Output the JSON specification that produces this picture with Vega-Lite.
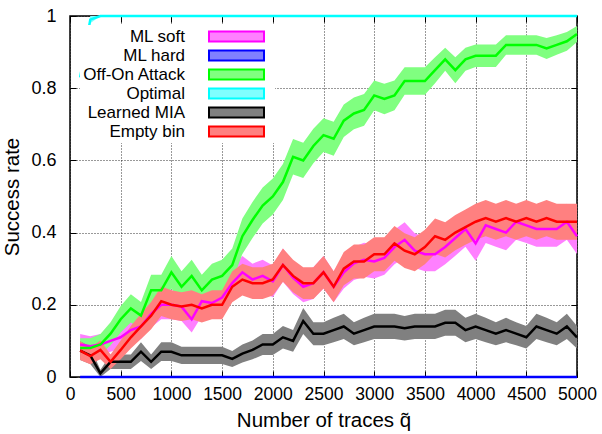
{
"$schema": "https://vega.github.io/schema/vega-lite/v6.json",
"width": 507, "height": 361,
"autosize": {"type": "none"},
"padding": {"left": 70, "top": 16, "right": 25, "bottom": 57},
"config": {
  "view": {"stroke": "black", "strokeWidth": 1.5},
  "font": "Liberation Sans",
  "legend": {"orient": "none", "legendX": 10, "legendY": 9, "zindex": 0,
    "symbolType": "M-3.235,-0.588L3.235,-0.588L3.235,0.588L-3.235,0.588Z", "symbolSize": 289, "symbolStrokeWidth": 2,
    "symbolOffset": 145, "labelOffset": -61, "labelAlign": "right", "labelFontSize": 17, "labelFont": "Liberation Sans",
    "labelColor": "black", "fillColor": "white", "padding": 2, "rowPadding": -0.3, "symbolOpacity": 1, "labelLimit": 220,
    "titleOrient": "right", "titleFontSize": 10, "titlePadding": 5}
},
"data": {"values": [
{"x":100,"s":"ML soft","v":0.09,"lo":0.061,"hi":0.119},
{"x":200,"s":"ML soft","v":0.085,"lo":0.057,"hi":0.113},
{"x":300,"s":"ML soft","v":0.09,"lo":0.061,"hi":0.119},
{"x":400,"s":"ML soft","v":0.10,"lo":0.07,"hi":0.13},
{"x":500,"s":"ML soft","v":0.11,"lo":0.079,"hi":0.141},
{"x":600,"s":"ML soft","v":0.13,"lo":0.096,"hi":0.164},
{"x":700,"s":"ML soft","v":0.14,"lo":0.105,"hi":0.175},
{"x":800,"s":"ML soft","v":0.175,"lo":0.137,"hi":0.213},
{"x":900,"s":"ML soft","v":0.20,"lo":0.16,"hi":0.24},
{"x":1000,"s":"ML soft","v":0.20,"lo":0.16,"hi":0.24},
{"x":1100,"s":"ML soft","v":0.195,"lo":0.155,"hi":0.235},
{"x":1200,"s":"ML soft","v":0.16,"lo":0.123,"hi":0.197},
{"x":1300,"s":"ML soft","v":0.21,"lo":0.169,"hi":0.251},
{"x":1400,"s":"ML soft","v":0.205,"lo":0.165,"hi":0.245},
{"x":1500,"s":"ML soft","v":0.22,"lo":0.179,"hi":0.261},
{"x":1600,"s":"ML soft","v":0.26,"lo":0.216,"hi":0.304},
{"x":1700,"s":"ML soft","v":0.29,"lo":0.245,"hi":0.335},
{"x":1800,"s":"ML soft","v":0.27,"lo":0.226,"hi":0.314},
{"x":1900,"s":"ML soft","v":0.28,"lo":0.235,"hi":0.325},
{"x":2000,"s":"ML soft","v":0.265,"lo":0.221,"hi":0.309},
{"x":2100,"s":"ML soft","v":0.31,"lo":0.264,"hi":0.356},
{"x":2200,"s":"ML soft","v":0.275,"lo":0.23,"hi":0.32},
{"x":2300,"s":"ML soft","v":0.25,"lo":0.207,"hi":0.293},
{"x":2400,"s":"ML soft","v":0.26,"lo":0.216,"hi":0.304},
{"x":2500,"s":"ML soft","v":0.29,"lo":0.245,"hi":0.335},
{"x":2600,"s":"ML soft","v":0.25,"lo":0.207,"hi":0.293},
{"x":2700,"s":"ML soft","v":0.29,"lo":0.245,"hi":0.335},
{"x":2800,"s":"ML soft","v":0.315,"lo":0.269,"hi":0.361},
{"x":2900,"s":"ML soft","v":0.325,"lo":0.278,"hi":0.372},
{"x":3000,"s":"ML soft","v":0.32,"lo":0.273,"hi":0.367},
{"x":3100,"s":"ML soft","v":0.33,"lo":0.283,"hi":0.377},
{"x":3200,"s":"ML soft","v":0.36,"lo":0.312,"hi":0.408},
{"x":3300,"s":"ML soft","v":0.38,"lo":0.331,"hi":0.429},
{"x":3400,"s":"ML soft","v":0.35,"lo":0.302,"hi":0.398},
{"x":3500,"s":"ML soft","v":0.34,"lo":0.293,"hi":0.387},
{"x":3600,"s":"ML soft","v":0.34,"lo":0.293,"hi":0.387},
{"x":3700,"s":"ML soft","v":0.36,"lo":0.312,"hi":0.408},
{"x":3800,"s":"ML soft","v":0.385,"lo":0.336,"hi":0.434},
{"x":3900,"s":"ML soft","v":0.41,"lo":0.361,"hi":0.459},
{"x":4000,"s":"ML soft","v":0.37,"lo":0.322,"hi":0.418},
{"x":4100,"s":"ML soft","v":0.42,"lo":0.371,"hi":0.469},
{"x":4200,"s":"ML soft","v":0.41,"lo":0.361,"hi":0.459},
{"x":4300,"s":"ML soft","v":0.40,"lo":0.351,"hi":0.449},
{"x":4400,"s":"ML soft","v":0.43,"lo":0.38,"hi":0.48},
{"x":4500,"s":"ML soft","v":0.42,"lo":0.371,"hi":0.469},
{"x":4600,"s":"ML soft","v":0.41,"lo":0.361,"hi":0.459},
{"x":4700,"s":"ML soft","v":0.41,"lo":0.361,"hi":0.459},
{"x":4800,"s":"ML soft","v":0.41,"lo":0.361,"hi":0.459},
{"x":4900,"s":"ML soft","v":0.43,"lo":0.38,"hi":0.48},
{"x":5000,"s":"ML soft","v":0.39,"lo":0.341,"hi":0.439},
{"x":100,"s":"ML hard","v":0,"lo":0,"hi":0},
{"x":200,"s":"ML hard","v":0,"lo":0,"hi":0},
{"x":300,"s":"ML hard","v":0,"lo":0,"hi":0},
{"x":400,"s":"ML hard","v":0,"lo":0,"hi":0},
{"x":500,"s":"ML hard","v":0,"lo":0,"hi":0},
{"x":600,"s":"ML hard","v":0,"lo":0,"hi":0},
{"x":700,"s":"ML hard","v":0,"lo":0,"hi":0},
{"x":800,"s":"ML hard","v":0,"lo":0,"hi":0},
{"x":900,"s":"ML hard","v":0,"lo":0,"hi":0},
{"x":1000,"s":"ML hard","v":0,"lo":0,"hi":0},
{"x":1100,"s":"ML hard","v":0,"lo":0,"hi":0},
{"x":1200,"s":"ML hard","v":0,"lo":0,"hi":0},
{"x":1300,"s":"ML hard","v":0,"lo":0,"hi":0},
{"x":1400,"s":"ML hard","v":0,"lo":0,"hi":0},
{"x":1500,"s":"ML hard","v":0,"lo":0,"hi":0},
{"x":1600,"s":"ML hard","v":0,"lo":0,"hi":0},
{"x":1700,"s":"ML hard","v":0,"lo":0,"hi":0},
{"x":1800,"s":"ML hard","v":0,"lo":0,"hi":0},
{"x":1900,"s":"ML hard","v":0,"lo":0,"hi":0},
{"x":2000,"s":"ML hard","v":0,"lo":0,"hi":0},
{"x":2100,"s":"ML hard","v":0,"lo":0,"hi":0},
{"x":2200,"s":"ML hard","v":0,"lo":0,"hi":0},
{"x":2300,"s":"ML hard","v":0,"lo":0,"hi":0},
{"x":2400,"s":"ML hard","v":0,"lo":0,"hi":0},
{"x":2500,"s":"ML hard","v":0,"lo":0,"hi":0},
{"x":2600,"s":"ML hard","v":0,"lo":0,"hi":0},
{"x":2700,"s":"ML hard","v":0,"lo":0,"hi":0},
{"x":2800,"s":"ML hard","v":0,"lo":0,"hi":0},
{"x":2900,"s":"ML hard","v":0,"lo":0,"hi":0},
{"x":3000,"s":"ML hard","v":0,"lo":0,"hi":0},
{"x":3100,"s":"ML hard","v":0,"lo":0,"hi":0},
{"x":3200,"s":"ML hard","v":0,"lo":0,"hi":0},
{"x":3300,"s":"ML hard","v":0,"lo":0,"hi":0},
{"x":3400,"s":"ML hard","v":0,"lo":0,"hi":0},
{"x":3500,"s":"ML hard","v":0,"lo":0,"hi":0},
{"x":3600,"s":"ML hard","v":0,"lo":0,"hi":0},
{"x":3700,"s":"ML hard","v":0,"lo":0,"hi":0},
{"x":3800,"s":"ML hard","v":0,"lo":0,"hi":0},
{"x":3900,"s":"ML hard","v":0,"lo":0,"hi":0},
{"x":4000,"s":"ML hard","v":0,"lo":0,"hi":0},
{"x":4100,"s":"ML hard","v":0,"lo":0,"hi":0},
{"x":4200,"s":"ML hard","v":0,"lo":0,"hi":0},
{"x":4300,"s":"ML hard","v":0,"lo":0,"hi":0},
{"x":4400,"s":"ML hard","v":0,"lo":0,"hi":0},
{"x":4500,"s":"ML hard","v":0,"lo":0,"hi":0},
{"x":4600,"s":"ML hard","v":0,"lo":0,"hi":0},
{"x":4700,"s":"ML hard","v":0,"lo":0,"hi":0},
{"x":4800,"s":"ML hard","v":0,"lo":0,"hi":0},
{"x":4900,"s":"ML hard","v":0,"lo":0,"hi":0},
{"x":5000,"s":"ML hard","v":0,"lo":0,"hi":0},
{"x":100,"s":"Off-On Attack","v":0.08,"lo":0.053,"hi":0.107},
{"x":200,"s":"Off-On Attack","v":0.08,"lo":0.053,"hi":0.107},
{"x":300,"s":"Off-On Attack","v":0.09,"lo":0.061,"hi":0.119},
{"x":400,"s":"Off-On Attack","v":0.12,"lo":0.088,"hi":0.152},
{"x":500,"s":"Off-On Attack","v":0.16,"lo":0.123,"hi":0.197},
{"x":600,"s":"Off-On Attack","v":0.19,"lo":0.151,"hi":0.229},
{"x":700,"s":"Off-On Attack","v":0.17,"lo":0.132,"hi":0.208},
{"x":800,"s":"Off-On Attack","v":0.24,"lo":0.197,"hi":0.283},
{"x":900,"s":"Off-On Attack","v":0.24,"lo":0.197,"hi":0.283},
{"x":1000,"s":"Off-On Attack","v":0.29,"lo":0.245,"hi":0.335},
{"x":1100,"s":"Off-On Attack","v":0.25,"lo":0.207,"hi":0.293},
{"x":1200,"s":"Off-On Attack","v":0.28,"lo":0.235,"hi":0.325},
{"x":1300,"s":"Off-On Attack","v":0.24,"lo":0.197,"hi":0.283},
{"x":1400,"s":"Off-On Attack","v":0.27,"lo":0.226,"hi":0.314},
{"x":1500,"s":"Off-On Attack","v":0.28,"lo":0.235,"hi":0.325},
{"x":1600,"s":"Off-On Attack","v":0.31,"lo":0.264,"hi":0.356},
{"x":1700,"s":"Off-On Attack","v":0.39,"lo":0.341,"hi":0.439},
{"x":1800,"s":"Off-On Attack","v":0.435,"lo":0.385,"hi":0.485},
{"x":1900,"s":"Off-On Attack","v":0.475,"lo":0.425,"hi":0.525},
{"x":2000,"s":"Off-On Attack","v":0.50,"lo":0.45,"hi":0.55},
{"x":2100,"s":"Off-On Attack","v":0.54,"lo":0.49,"hi":0.59},
{"x":2200,"s":"Off-On Attack","v":0.61,"lo":0.561,"hi":0.659},
{"x":2300,"s":"Off-On Attack","v":0.60,"lo":0.551,"hi":0.649},
{"x":2400,"s":"Off-On Attack","v":0.64,"lo":0.592,"hi":0.688},
{"x":2500,"s":"Off-On Attack","v":0.67,"lo":0.623,"hi":0.717},
{"x":2600,"s":"Off-On Attack","v":0.66,"lo":0.613,"hi":0.707},
{"x":2700,"s":"Off-On Attack","v":0.71,"lo":0.665,"hi":0.755},
{"x":2800,"s":"Off-On Attack","v":0.73,"lo":0.686,"hi":0.774},
{"x":2900,"s":"Off-On Attack","v":0.74,"lo":0.696,"hi":0.784},
{"x":3000,"s":"Off-On Attack","v":0.78,"lo":0.739,"hi":0.821},
{"x":3100,"s":"Off-On Attack","v":0.77,"lo":0.728,"hi":0.812},
{"x":3200,"s":"Off-On Attack","v":0.78,"lo":0.739,"hi":0.821},
{"x":3300,"s":"Off-On Attack","v":0.82,"lo":0.782,"hi":0.858},
{"x":3400,"s":"Off-On Attack","v":0.82,"lo":0.782,"hi":0.858},
{"x":3500,"s":"Off-On Attack","v":0.82,"lo":0.782,"hi":0.858},
{"x":3600,"s":"Off-On Attack","v":0.85,"lo":0.814,"hi":0.886},
{"x":3700,"s":"Off-On Attack","v":0.88,"lo":0.848,"hi":0.912},
{"x":3800,"s":"Off-On Attack","v":0.85,"lo":0.814,"hi":0.886},
{"x":3900,"s":"Off-On Attack","v":0.88,"lo":0.848,"hi":0.912},
{"x":4000,"s":"Off-On Attack","v":0.89,"lo":0.859,"hi":0.921},
{"x":4100,"s":"Off-On Attack","v":0.89,"lo":0.859,"hi":0.921},
{"x":4200,"s":"Off-On Attack","v":0.89,"lo":0.859,"hi":0.921},
{"x":4300,"s":"Off-On Attack","v":0.92,"lo":0.893,"hi":0.947},
{"x":4400,"s":"Off-On Attack","v":0.92,"lo":0.893,"hi":0.947},
{"x":4500,"s":"Off-On Attack","v":0.92,"lo":0.893,"hi":0.947},
{"x":4600,"s":"Off-On Attack","v":0.92,"lo":0.893,"hi":0.947},
{"x":4700,"s":"Off-On Attack","v":0.91,"lo":0.881,"hi":0.939},
{"x":4800,"s":"Off-On Attack","v":0.92,"lo":0.893,"hi":0.947},
{"x":4900,"s":"Off-On Attack","v":0.93,"lo":0.904,"hi":0.956},
{"x":5000,"s":"Off-On Attack","v":0.95,"lo":0.928,"hi":0.972},
{"x":100,"s":"Optimal","v":0.83,"lo":0.81,"hi":0.85},
{"x":200,"s":"Optimal","v":0.99,"lo":0.98,"hi":1},
{"x":300,"s":"Optimal","v":1,"lo":1,"hi":1},
{"x":400,"s":"Optimal","v":1,"lo":1,"hi":1},
{"x":500,"s":"Optimal","v":1,"lo":1,"hi":1},
{"x":600,"s":"Optimal","v":1,"lo":1,"hi":1},
{"x":700,"s":"Optimal","v":1,"lo":1,"hi":1},
{"x":800,"s":"Optimal","v":1,"lo":1,"hi":1},
{"x":900,"s":"Optimal","v":1,"lo":1,"hi":1},
{"x":1000,"s":"Optimal","v":1,"lo":1,"hi":1},
{"x":1100,"s":"Optimal","v":1,"lo":1,"hi":1},
{"x":1200,"s":"Optimal","v":1,"lo":1,"hi":1},
{"x":1300,"s":"Optimal","v":1,"lo":1,"hi":1},
{"x":1400,"s":"Optimal","v":1,"lo":1,"hi":1},
{"x":1500,"s":"Optimal","v":1,"lo":1,"hi":1},
{"x":1600,"s":"Optimal","v":1,"lo":1,"hi":1},
{"x":1700,"s":"Optimal","v":1,"lo":1,"hi":1},
{"x":1800,"s":"Optimal","v":1,"lo":1,"hi":1},
{"x":1900,"s":"Optimal","v":1,"lo":1,"hi":1},
{"x":2000,"s":"Optimal","v":1,"lo":1,"hi":1},
{"x":2100,"s":"Optimal","v":1,"lo":1,"hi":1},
{"x":2200,"s":"Optimal","v":1,"lo":1,"hi":1},
{"x":2300,"s":"Optimal","v":1,"lo":1,"hi":1},
{"x":2400,"s":"Optimal","v":1,"lo":1,"hi":1},
{"x":2500,"s":"Optimal","v":1,"lo":1,"hi":1},
{"x":2600,"s":"Optimal","v":1,"lo":1,"hi":1},
{"x":2700,"s":"Optimal","v":1,"lo":1,"hi":1},
{"x":2800,"s":"Optimal","v":1,"lo":1,"hi":1},
{"x":2900,"s":"Optimal","v":1,"lo":1,"hi":1},
{"x":3000,"s":"Optimal","v":1,"lo":1,"hi":1},
{"x":3100,"s":"Optimal","v":1,"lo":1,"hi":1},
{"x":3200,"s":"Optimal","v":1,"lo":1,"hi":1},
{"x":3300,"s":"Optimal","v":1,"lo":1,"hi":1},
{"x":3400,"s":"Optimal","v":1,"lo":1,"hi":1},
{"x":3500,"s":"Optimal","v":1,"lo":1,"hi":1},
{"x":3600,"s":"Optimal","v":1,"lo":1,"hi":1},
{"x":3700,"s":"Optimal","v":1,"lo":1,"hi":1},
{"x":3800,"s":"Optimal","v":1,"lo":1,"hi":1},
{"x":3900,"s":"Optimal","v":1,"lo":1,"hi":1},
{"x":4000,"s":"Optimal","v":1,"lo":1,"hi":1},
{"x":4100,"s":"Optimal","v":1,"lo":1,"hi":1},
{"x":4200,"s":"Optimal","v":1,"lo":1,"hi":1},
{"x":4300,"s":"Optimal","v":1,"lo":1,"hi":1},
{"x":4400,"s":"Optimal","v":1,"lo":1,"hi":1},
{"x":4500,"s":"Optimal","v":1,"lo":1,"hi":1},
{"x":4600,"s":"Optimal","v":1,"lo":1,"hi":1},
{"x":4700,"s":"Optimal","v":1,"lo":1,"hi":1},
{"x":4800,"s":"Optimal","v":1,"lo":1,"hi":1},
{"x":4900,"s":"Optimal","v":1,"lo":1,"hi":1},
{"x":5000,"s":"Optimal","v":1,"lo":1,"hi":1},
{"x":100,"s":"Learned MIA","v":0.073,"lo":0.047,"hi":0.099},
{"x":200,"s":"Learned MIA","v":0.06,"lo":0.036,"hi":0.084},
{"x":300,"s":"Learned MIA","v":0.01,"lo":0,"hi":0.02},
{"x":400,"s":"Learned MIA","v":0.042,"lo":0.022,"hi":0.062},
{"x":500,"s":"Learned MIA","v":0.042,"lo":0.022,"hi":0.062},
{"x":600,"s":"Learned MIA","v":0.042,"lo":0.022,"hi":0.062},
{"x":700,"s":"Learned MIA","v":0.07,"lo":0.044,"hi":0.096},
{"x":800,"s":"Learned MIA","v":0.042,"lo":0.022,"hi":0.062},
{"x":900,"s":"Learned MIA","v":0.07,"lo":0.044,"hi":0.096},
{"x":1000,"s":"Learned MIA","v":0.07,"lo":0.044,"hi":0.096},
{"x":1100,"s":"Learned MIA","v":0.06,"lo":0.036,"hi":0.084},
{"x":1200,"s":"Learned MIA","v":0.06,"lo":0.036,"hi":0.084},
{"x":1300,"s":"Learned MIA","v":0.06,"lo":0.036,"hi":0.084},
{"x":1400,"s":"Learned MIA","v":0.06,"lo":0.036,"hi":0.084},
{"x":1500,"s":"Learned MIA","v":0.06,"lo":0.036,"hi":0.084},
{"x":1600,"s":"Learned MIA","v":0.05,"lo":0.028,"hi":0.072},
{"x":1700,"s":"Learned MIA","v":0.065,"lo":0.04,"hi":0.09},
{"x":1800,"s":"Learned MIA","v":0.075,"lo":0.049,"hi":0.101},
{"x":1900,"s":"Learned MIA","v":0.09,"lo":0.061,"hi":0.119},
{"x":2000,"s":"Learned MIA","v":0.09,"lo":0.061,"hi":0.119},
{"x":2100,"s":"Learned MIA","v":0.11,"lo":0.079,"hi":0.141},
{"x":2200,"s":"Learned MIA","v":0.10,"lo":0.07,"hi":0.13},
{"x":2300,"s":"Learned MIA","v":0.155,"lo":0.119,"hi":0.191},
{"x":2400,"s":"Learned MIA","v":0.12,"lo":0.088,"hi":0.152},
{"x":2500,"s":"Learned MIA","v":0.12,"lo":0.088,"hi":0.152},
{"x":2600,"s":"Learned MIA","v":0.13,"lo":0.096,"hi":0.164},
{"x":2700,"s":"Learned MIA","v":0.14,"lo":0.105,"hi":0.175},
{"x":2800,"s":"Learned MIA","v":0.12,"lo":0.088,"hi":0.152},
{"x":2900,"s":"Learned MIA","v":0.13,"lo":0.096,"hi":0.164},
{"x":3000,"s":"Learned MIA","v":0.14,"lo":0.105,"hi":0.175},
{"x":3100,"s":"Learned MIA","v":0.14,"lo":0.105,"hi":0.175},
{"x":3200,"s":"Learned MIA","v":0.14,"lo":0.105,"hi":0.175},
{"x":3300,"s":"Learned MIA","v":0.135,"lo":0.101,"hi":0.169},
{"x":3400,"s":"Learned MIA","v":0.14,"lo":0.105,"hi":0.175},
{"x":3500,"s":"Learned MIA","v":0.14,"lo":0.105,"hi":0.175},
{"x":3600,"s":"Learned MIA","v":0.14,"lo":0.105,"hi":0.175},
{"x":3700,"s":"Learned MIA","v":0.15,"lo":0.114,"hi":0.186},
{"x":3800,"s":"Learned MIA","v":0.15,"lo":0.114,"hi":0.186},
{"x":3900,"s":"Learned MIA","v":0.13,"lo":0.096,"hi":0.164},
{"x":4000,"s":"Learned MIA","v":0.14,"lo":0.105,"hi":0.175},
{"x":4100,"s":"Learned MIA","v":0.13,"lo":0.096,"hi":0.164},
{"x":4200,"s":"Learned MIA","v":0.12,"lo":0.088,"hi":0.152},
{"x":4300,"s":"Learned MIA","v":0.13,"lo":0.096,"hi":0.164},
{"x":4400,"s":"Learned MIA","v":0.12,"lo":0.088,"hi":0.152},
{"x":4500,"s":"Learned MIA","v":0.11,"lo":0.079,"hi":0.141},
{"x":4600,"s":"Learned MIA","v":0.14,"lo":0.105,"hi":0.175},
{"x":4700,"s":"Learned MIA","v":0.13,"lo":0.096,"hi":0.164},
{"x":4800,"s":"Learned MIA","v":0.12,"lo":0.088,"hi":0.152},
{"x":4900,"s":"Learned MIA","v":0.14,"lo":0.105,"hi":0.175},
{"x":5000,"s":"Learned MIA","v":0.11,"lo":0.079,"hi":0.141},
{"x":100,"s":"Empty bin","v":0.073,"lo":0.047,"hi":0.099},
{"x":200,"s":"Empty bin","v":0.058,"lo":0.035,"hi":0.081},
{"x":300,"s":"Empty bin","v":0.075,"lo":0.049,"hi":0.101},
{"x":400,"s":"Empty bin","v":0.042,"lo":0.022,"hi":0.062},
{"x":500,"s":"Empty bin","v":0.075,"lo":0.049,"hi":0.101},
{"x":600,"s":"Empty bin","v":0.11,"lo":0.079,"hi":0.141},
{"x":700,"s":"Empty bin","v":0.14,"lo":0.105,"hi":0.175},
{"x":800,"s":"Empty bin","v":0.17,"lo":0.132,"hi":0.208},
{"x":900,"s":"Empty bin","v":0.21,"lo":0.169,"hi":0.251},
{"x":1000,"s":"Empty bin","v":0.20,"lo":0.16,"hi":0.24},
{"x":1100,"s":"Empty bin","v":0.195,"lo":0.155,"hi":0.235},
{"x":1200,"s":"Empty bin","v":0.20,"lo":0.16,"hi":0.24},
{"x":1300,"s":"Empty bin","v":0.19,"lo":0.151,"hi":0.229},
{"x":1400,"s":"Empty bin","v":0.20,"lo":0.16,"hi":0.24},
{"x":1500,"s":"Empty bin","v":0.20,"lo":0.16,"hi":0.24},
{"x":1600,"s":"Empty bin","v":0.25,"lo":0.207,"hi":0.293},
{"x":1700,"s":"Empty bin","v":0.27,"lo":0.226,"hi":0.314},
{"x":1800,"s":"Empty bin","v":0.26,"lo":0.216,"hi":0.304},
{"x":1900,"s":"Empty bin","v":0.26,"lo":0.216,"hi":0.304},
{"x":2000,"s":"Empty bin","v":0.27,"lo":0.226,"hi":0.314},
{"x":2100,"s":"Empty bin","v":0.31,"lo":0.264,"hi":0.356},
{"x":2200,"s":"Empty bin","v":0.28,"lo":0.235,"hi":0.325},
{"x":2300,"s":"Empty bin","v":0.26,"lo":0.216,"hi":0.304},
{"x":2400,"s":"Empty bin","v":0.26,"lo":0.216,"hi":0.304},
{"x":2500,"s":"Empty bin","v":0.29,"lo":0.245,"hi":0.335},
{"x":2600,"s":"Empty bin","v":0.25,"lo":0.207,"hi":0.293},
{"x":2700,"s":"Empty bin","v":0.30,"lo":0.254,"hi":0.346},
{"x":2800,"s":"Empty bin","v":0.32,"lo":0.273,"hi":0.367},
{"x":2900,"s":"Empty bin","v":0.32,"lo":0.273,"hi":0.367},
{"x":3000,"s":"Empty bin","v":0.34,"lo":0.293,"hi":0.387},
{"x":3100,"s":"Empty bin","v":0.34,"lo":0.293,"hi":0.387},
{"x":3200,"s":"Empty bin","v":0.37,"lo":0.322,"hi":0.418},
{"x":3300,"s":"Empty bin","v":0.35,"lo":0.302,"hi":0.398},
{"x":3400,"s":"Empty bin","v":0.34,"lo":0.293,"hi":0.387},
{"x":3500,"s":"Empty bin","v":0.36,"lo":0.312,"hi":0.408},
{"x":3600,"s":"Empty bin","v":0.39,"lo":0.341,"hi":0.439},
{"x":3700,"s":"Empty bin","v":0.38,"lo":0.331,"hi":0.429},
{"x":3800,"s":"Empty bin","v":0.40,"lo":0.351,"hi":0.449},
{"x":3900,"s":"Empty bin","v":0.415,"lo":0.366,"hi":0.464},
{"x":4000,"s":"Empty bin","v":0.43,"lo":0.38,"hi":0.48},
{"x":4100,"s":"Empty bin","v":0.44,"lo":0.39,"hi":0.49},
{"x":4200,"s":"Empty bin","v":0.43,"lo":0.38,"hi":0.48},
{"x":4300,"s":"Empty bin","v":0.44,"lo":0.39,"hi":0.49},
{"x":4400,"s":"Empty bin","v":0.43,"lo":0.38,"hi":0.48},
{"x":4500,"s":"Empty bin","v":0.44,"lo":0.39,"hi":0.49},
{"x":4600,"s":"Empty bin","v":0.43,"lo":0.38,"hi":0.48},
{"x":4700,"s":"Empty bin","v":0.44,"lo":0.39,"hi":0.49},
{"x":4800,"s":"Empty bin","v":0.43,"lo":0.38,"hi":0.48},
{"x":4900,"s":"Empty bin","v":0.43,"lo":0.38,"hi":0.48},
{"x":5000,"s":"Empty bin","v":0.43,"lo":0.38,"hi":0.48}
]},
"layer": [
  {"mark": {"type": "area", "opacity": 1},
   "encoding": {
     "x": {"field": "x", "type": "quantitative", "scale": {"domain": [0, 5000], "nice": false},
       "axis": {"values": [0,500,1000,1500,2000,2500,3000,3500,4000,4500,5000], "format": "d", "grid": true, "gridDash": [1,2], "gridColor": "#000", "gridOpacity": 0.8,
         "domain": false, "ticks": true, "tickSize": -6, "tickColor": "#000", "labelFontSize": 17.5, "labelColor": "#000", "labelPadding": 14, "labelFlush": false,
         "title": "Number of traces q\u0303", "titleFontSize": 20.5, "titleFontWeight": "normal", "titleColor": "#000", "titlePadding": 8}},
     "y": {"field": "lo", "type": "quantitative", "scale": {"domain": [0, 1], "nice": false},
       "axis": {"values": [0,0.2,0.4,0.6,0.8,1], "format": "~g", "grid": true, "gridDash": [1,2], "gridColor": "#000", "gridOpacity": 0.8,
         "domain": false, "ticks": true, "tickSize": -6, "tickColor": "#000", "labelFontSize": 18, "labelColor": "#000", "labelPadding": 20,
         "title": "Success rate", "titleFontSize": 20.5, "titleFontWeight": "normal", "titleColor": "#000", "titlePadding": 8}},
     "y2": {"field": "hi"},
     "fill": {"field": "s", "type": "nominal", "legend": {"title": "\u00a0"},
       "scale": {"domain": ["ML soft","ML hard","Off-On Attack","Optimal","Learned MIA","Empty bin"], "range": ["#ff80ff","#8080ff","#80ff80","#80ffff","#808080","#ff8080"]}}
   }},
  {"mark": {"type": "line", "strokeWidth": 2.5},
   "encoding": {
     "x": {"field": "x", "type": "quantitative", "axis": {"orient": "top", "values": [0,500,1000,1500,2000,2500,3000,3500,4000,4500,5000], "labels": false, "domain": false, "grid": false, "tickSize": -6, "tickColor": "#000", "title": null}},
     "y": {"field": "v", "type": "quantitative", "axis": {"orient": "right", "values": [0,0.2,0.4,0.6,0.8,1], "labels": false, "domain": false, "grid": false, "tickSize": -6, "tickColor": "#000", "title": null}},
     "stroke": {"field": "s", "type": "nominal", "legend": {"title": "\u00a0"},
       "scale": {"domain": ["ML soft","ML hard","Off-On Attack","Optimal","Learned MIA","Empty bin"], "range": ["#ff00ff","#0000ff","#00ff00","#00ffff","#000000","#ff0000"]}}
   }}
],
"resolve": {"axis": {"x": "independent", "y": "independent"}}
}
